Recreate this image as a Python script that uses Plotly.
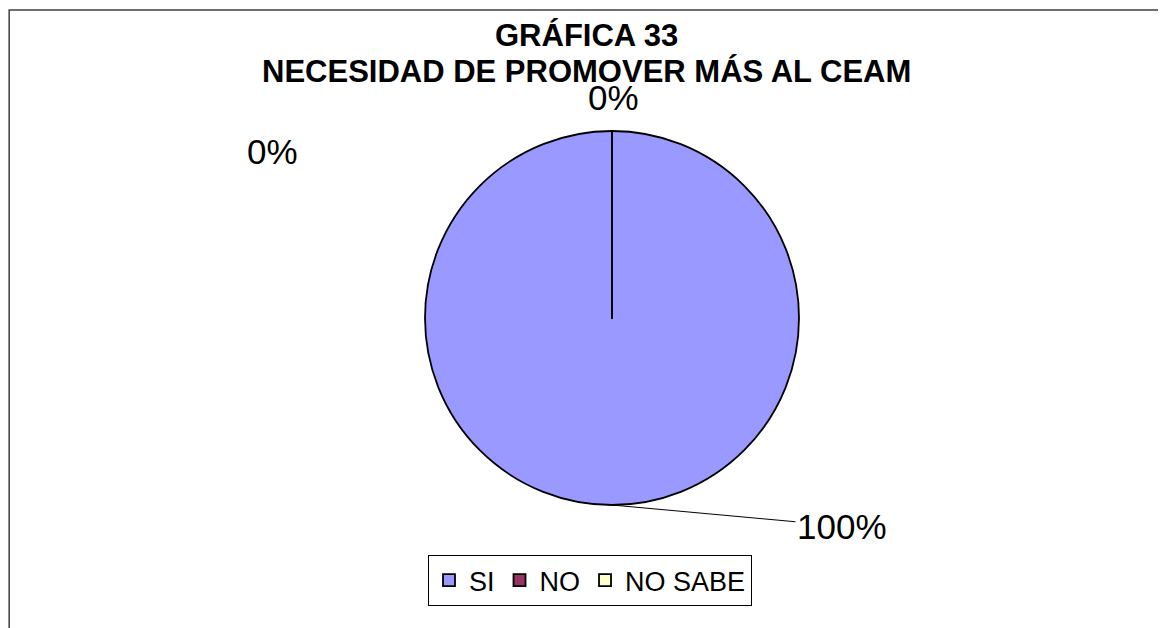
import plotly.graph_objects as go

categories = ["SI", "NO", "NO SABE"]
values = [100, 0, 0]
colors = ["#9999FF", "#993366", "#FFFFCC"]

W, H = 1166, 628
OFF = 8  # page body margin
FONT = "Liberation Sans, Arial, sans-serif"


def fx(x):
    return (x - OFF) / W


def fy(y):
    return 1 - (y - OFF) / H


total = sum(values)
pct = [f"{round(v * 100 / total)}%" for v in values]

fig = go.Figure()
fig.add_trace(go.Pie(
    labels=categories,
    values=values,
    sort=False,
    direction="clockwise",
    rotation=0,
    textinfo="none",
    hoverinfo="label+percent",
    marker=dict(colors=colors, line=dict(color="black", width=1.8)),
    domain=dict(x=[fx(425), fx(799)], y=[fy(505), fy(131)]),
))

# percentage labels placed like the original
label_pos = [
    dict(x=842, y=526, px=612, py=505, arrow=True),  # SI
    dict(x=613, y=98, arrow=False),                  # NO
    dict(x=272, y=151, arrow=False),                 # NO SABE
]
for txt, p in zip(pct, label_pos):
    if p["arrow"]:
        fig.add_annotation(
            x=fx(p["px"]), y=fy(p["py"]), xref="paper", yref="paper",
            text=txt, showarrow=True, arrowhead=0, arrowwidth=1,
            arrowcolor="black", ax=p["x"] - p["px"], ay=p["y"] - p["py"],
            font=dict(family=FONT, size=35, color="black"),
        )
    else:
        fig.add_annotation(
            x=fx(p["x"]), y=fy(p["y"]), xref="paper", yref="paper",
            xanchor="center", yanchor="middle",
            text=txt, showarrow=False,
            font=dict(family=FONT, size=35, color="black"),
        )

# two-line bold title
for line, yc in [("GRÁFICA 33", 36), ("NECESIDAD DE PROMOVER MÁS AL CEAM", 71)]:
    fig.add_annotation(
        x=fx(586), y=fy(yc), xref="paper", yref="paper",
        xanchor="center", yanchor="middle",
        text=f"<b>{line}</b>", showarrow=False,
        font=dict(family=FONT, size=31, color="black"),
    )

# chart border
fig.add_shape(type="rect", xref="paper", yref="paper",
              x0=0.001, x1=1.05, y0=-0.05, y1=fy(10),
              line=dict(color="#404040", width=1.5))

fig.update_layout(
    width=W, height=H,
    margin=dict(l=0, r=0, t=0, b=0),
    paper_bgcolor="white",
    plot_bgcolor="white",
    legend=dict(
        orientation="h",
        x=fx(590), xanchor="center",
        y=fy(555), yanchor="top",
        bordercolor="black", borderwidth=1,
        font=dict(family=FONT, size=27, color="black"),
        traceorder="normal",
        itemwidth=30,
    ),
    showlegend=True,
)

fig.write_html("out.html")
